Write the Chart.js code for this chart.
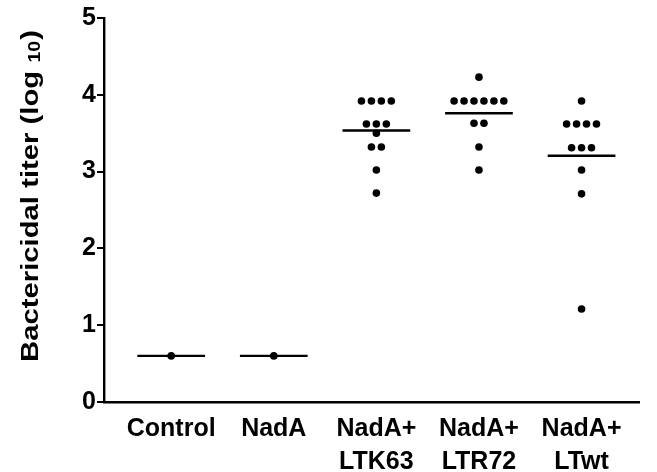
<!DOCTYPE html>
<html><head><meta charset="utf-8">
<script src="https://cdn.jsdelivr.net/npm/chart.js@4/dist/chart.umd.min.js"></script>
<style>html,body{margin:0;padding:0;background:#fff}#wrap{width:657px;height:472px}</style>
</head><body><div id="wrap"><canvas id="c"></canvas></div>
<script>
// ---- data ----
const categories = [['Control'], ['NadA'], ['NadA+', 'LTK63'], ['NadA+', 'LTR72'], ['NadA+', 'LTwt']];
const control = [0.60];
const nadA = [0.60];
const ltk63 = [3.92, 3.92, 3.92, 3.92, 3.62, 3.62, 3.62, 3.50, 3.32, 3.32, 3.02, 2.72];
const ltr72 = [4.23, 3.92, 3.92, 3.92, 3.92, 3.92, 3.92, 3.63, 3.63, 3.32, 3.02];
const ltwt = [3.92, 3.62, 3.62, 3.62, 3.62, 3.31, 3.31, 3.31, 3.02, 2.71, 1.21];
const yTicks = [0, 1, 2, 3, 4, 5];
const yTitle = 'Bactericidal titer (log ';
const yTitleSub = '10';
const groups = [control, nadA, ltk63, ltr72, ltwt];

const FONT = '"Liberation Sans", Arial, sans-serif';
const DOT_STEP = 0.097;   // horizontal spacing of tied dots (x units)
const HALF_MEAN = 0.33;   // half-length of mean bar (x units)

// swarm layout: tied values spread horizontally around group center
function swarm(vals, center) {
  const counts = {}, seen = {};
  vals.forEach(v => counts[v] = (counts[v] || 0) + 1);
  return vals.map(v => {
    const k = counts[v]; const j = seen[v] = (seen[v] === undefined ? 0 : seen[v] + 1);
    return { x: center + (j - (k - 1) / 2) * DOT_STEP, y: v };
  });
}
const datasets = [];
groups.forEach((g, i) => {
  const c = i + 1;
  const mean = g.reduce((a, b) => a + b, 0) / g.length;
  datasets.push({ type: 'line', data: [{ x: c - HALF_MEAN, y: mean }, { x: c + HALF_MEAN, y: mean }],
    borderColor: '#000', borderWidth: 2.4, pointRadius: 0, fill: false });
  datasets.push({ type: 'scatter', data: swarm(g, c), backgroundColor: '#000', borderColor: '#000',
    pointRadius: 3.8, borderWidth: 0 });
});

const yTitlePlugin = {
  id: 'ytitle',
  afterDraw(chart) {
    const ctx = chart.ctx;
    ctx.save();
    ctx.translate(38, 362);
    ctx.rotate(-Math.PI / 2);
    ctx.scale(1.22, 1);
    ctx.fillStyle = '#000';
    ctx.textBaseline = 'alphabetic';
    ctx.textAlign = 'left';
    ctx.font = 'bold 24px ' + FONT;
    ctx.fillText(yTitle, 0, 0);
    let w = ctx.measureText(yTitle).width;
    ctx.font = 'bold 16px ' + FONT;
    ctx.fillText(yTitleSub, w, 2);
    w += ctx.measureText(yTitleSub).width + 1;
    ctx.font = 'bold 24px ' + FONT;
    ctx.fillText(')', w, 0);
    ctx.restore();
  }
};

new Chart(document.getElementById('c'), {
  data: { datasets },
  options: {
    responsive: true, maintainAspectRatio: false, animation: false,
    layout: { padding: { top: 18, right: 18, left: 0, bottom: 0 } },
    plugins: { legend: { display: false }, tooltip: { enabled: false } },
    scales: {
      x: {
        type: 'linear', min: 0.345, max: 5.56,
        afterBuildTicks(s) { s.ticks = categories.map((c, i) => ({ value: i + 1 })); },
        afterFit(s) { s.height = 70; },
        grid: { display: false, drawTicks: false },
        border: { display: true, color: '#000', width: 2.4 },
        ticks: { color: '#000', padding: 11, maxRotation: 0, autoSkip: false,
          font: { family: FONT, size: 25, weight: 'bold', lineHeight: 1.3 },
          callback: (v) => categories[Math.round(v) - 1] }
      },
      y: {
        min: 0, max: 5,
        afterBuildTicks(s) { s.ticks = yTicks.map(v => ({ value: v })); },
        afterFit(s) { s.width = 104; },
        grid: { display: true, drawOnChartArea: false, drawTicks: true, tickLength: 7, color: '#000', lineWidth: 2 },
        border: { display: true, color: '#000', width: 2.4 },
        ticks: { color: '#000', padding: 1, font: { family: FONT, size: 25, weight: 'bold' } }
      }
    }
  },
  plugins: [yTitlePlugin]
});
</script></body></html>
